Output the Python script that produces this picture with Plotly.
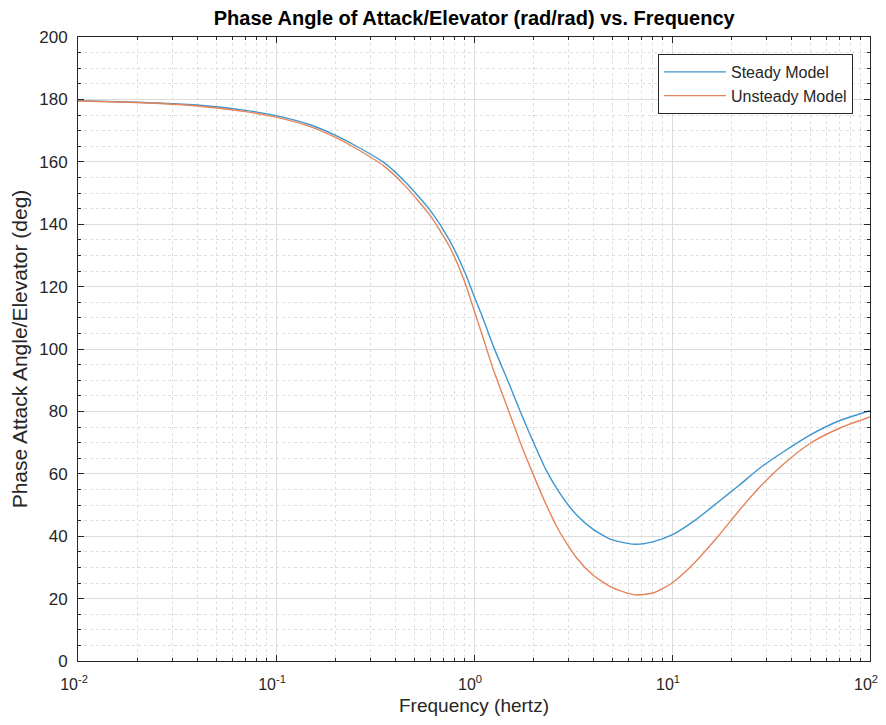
import plotly.graph_objects as go

# ----------------------------- data -----------------------------

steady_freq = [0.01, 0.02, 0.04, 0.07, 0.1, 0.15, 0.2, 0.25, 0.35, 0.45, 0.6, 0.75, 0.9,
               1.0, 1.1, 1.25, 1.5, 1.75, 2.0, 2.3, 2.7, 3.3, 4.0, 5.0, 6.5, 8.0, 10, 13,
               17, 22, 28, 36.4, 50, 70, 100]
steady_phase = [179.6, 179.1, 178.2, 176.5, 174.8, 171.8, 168.5, 165.3, 159.8, 153.5,
                144.5, 135, 124.5, 117, 110.5, 101, 89, 78.5, 70, 61.5, 54, 46.8, 42.2,
                38.8, 37.4, 38.2, 40.4, 45, 50.8, 56.5, 62, 67, 72.5, 77, 80.2]

unsteady_freq = [0.01, 0.02, 0.04, 0.07, 0.1, 0.15, 0.2, 0.25, 0.35, 0.45, 0.6, 0.75, 0.9,
                 1.0, 1.1, 1.25, 1.5, 1.75, 2.0, 2.3, 2.7, 3.3, 4.0, 5.0, 6.5, 8.0, 10, 13,
                 17, 22, 28, 36.4, 50, 70, 100]
unsteady_phase = [179.5, 179.0, 177.9, 176.1, 174.3, 171.2, 167.8, 164.5, 158.7, 152.2,
                  142.8, 133, 121.3, 112.5, 104.5, 93.5, 80, 68.5, 59.5, 50.5, 41.5, 33,
                  27.5, 23.5, 21.2, 21.8, 25, 31.5, 39.8, 48.5, 56, 63, 69.8, 74.6, 78.2]

x_tick_vals = [0.01, 0.1, 1, 10, 100]
x_tick_text = ["10<sup>-2</sup>", "10<sup>-1</sup>", "10<sup>0</sup>", "10<sup>1</sup>", "10<sup>2</sup>"]
y_tick_vals = [0, 20, 40, 60, 80, 100, 120, 140, 160, 180, 200]

BLUE = "#3f96cf"
ORANGE = "#e5845a"
AXIS = "#262626"
FONT = "Liberation Sans, Arial, sans-serif"

fig = go.Figure()
fig.add_trace(go.Scatter(x=steady_freq, y=steady_phase, mode="lines", name="Steady Model",
                         line=dict(color=BLUE, width=1.4, shape="spline", smoothing=0.6)))
fig.add_trace(go.Scatter(x=unsteady_freq, y=unsteady_phase, mode="lines", name="Unsteady Model",
                         line=dict(color=ORANGE, width=1.4, shape="spline", smoothing=0.6)))

fig.update_xaxes(
    type="log", range=[-2, 2], automargin=False,
    tickvals=x_tick_vals, ticktext=x_tick_text,
    tickfont=dict(size=16, color=AXIS), ticklabelstandoff=9,
    ticklabelshift=-4, ticklabeloverflow="allow",
    showline=True, linecolor=AXIS, linewidth=1, mirror="allticks",
    ticks="inside", ticklen=6, tickcolor=AXIS,
    showgrid=True, gridcolor="#dcdcdc", gridwidth=1,
    minor=dict(dtick="D1", ticks="inside", ticklen=3, tickcolor=AXIS,
               showgrid=True, gridcolor="#dedede", griddash="dot"),
    zeroline=False,
    title=dict(text="Frequency (hertz)", font=dict(size=19, color=AXIS), standoff=6),
)
fig.update_yaxes(
    range=[0, 200], tickvals=y_tick_vals, automargin=False,
    tickfont=dict(size=17, color=AXIS), ticklabelstandoff=6,
    showline=True, linecolor=AXIS, linewidth=1, mirror="allticks",
    ticks="inside", ticklen=6, tickcolor=AXIS,
    showgrid=True, gridcolor="#dcdcdc", gridwidth=1,
    minor=dict(dtick=5, ticks="inside", ticklen=3, tickcolor=AXIS,
               showgrid=True, gridcolor="#dedede", griddash="dot"),
    zeroline=False,
    title=dict(text="Phase Attack Angle/Elevator (deg)", font=dict(size=21, color=AXIS), standoff=6),
)

# the page body adds an 8px margin, so the figure is sized to the visible window
fig.update_layout(
    width=878, height=717,
    margin=dict(l=70, r=16, t=29, b=64),
    paper_bgcolor="white", plot_bgcolor="white",
    font=dict(family=FONT, color=AXIS),
    title=dict(text="<b>Phase Angle of Attack/Elevator (rad/rad) vs. Frequency</b>",
               x=0.531, xanchor="center", y=0.986, yanchor="middle",
               font=dict(size=20, color="#000000")),
    legend=dict(x=0.9785, xanchor="right", y=0.9728, yanchor="top",
                bgcolor="white", bordercolor=AXIS, borderwidth=1, itemwidth=62,
                font=dict(size=16, color=AXIS), tracegroupgap=0),
    showlegend=True,
)

fig.write_html("out.html")
